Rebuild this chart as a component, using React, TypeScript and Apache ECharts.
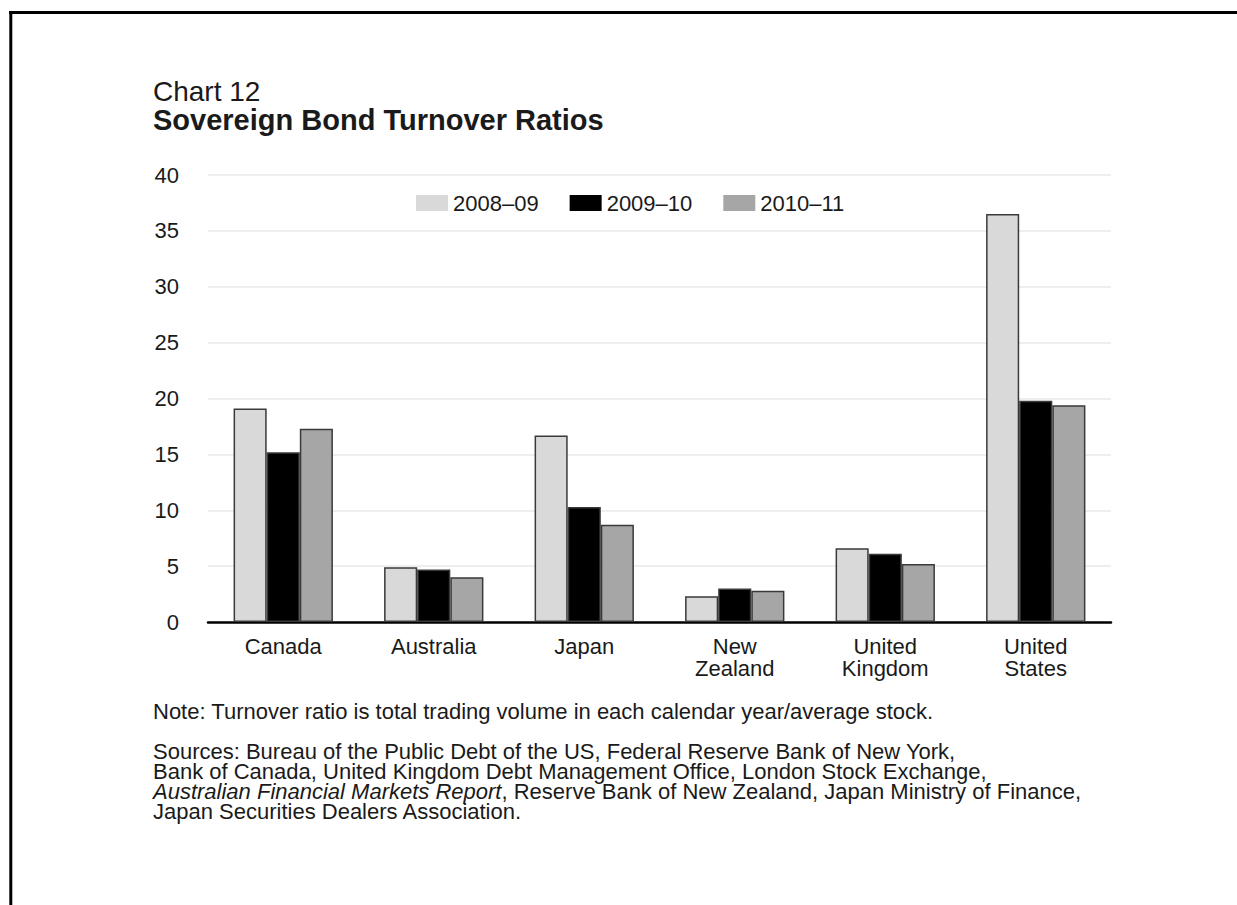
import React, { useEffect, useRef } from "react";
import * as echarts from "echarts";

const categories = ["Canada", "Australia", "Japan", "New\nZealand", "United\nKingdom", "United\nStates"];
const seriesNames = ["2008–09", "2009–10", "2010–11"];
const values0809 = [19.1, 4.9, 16.7, 2.3, 6.6, 36.5];
const values0910 = [15.2, 4.7, 10.3, 3.0, 6.1, 19.8];
const values1011 = [17.3, 4.0, 8.7, 2.8, 5.2, 19.4];
const yTicks = { min: 0, max: 40, interval: 5 };

const titleLine1 = "Chart 12";
const titleLine2 = "Sovereign Bond Turnover Ratios";
const noteLine = "Note: Turnover ratio is total trading volume in each calendar year/average stock.";
const sourceLines = [
  "Sources: Bureau of the Public Debt of the US, Federal Reserve Bank of New York,",
  "Bank of Canada, United Kingdom Debt Management Office, London Stock Exchange,",
  "{i|Australian Financial Markets Report}, Reserve Bank of New Zealand, Japan Ministry of Finance,",
  "Japan Securities Dealers Association.",
];

const FONT = "'Liberation Sans', Arial, Helvetica, sans-serif";
const TXT = "#1a1a1a";

export default function App() {
  const ref = useRef<HTMLDivElement>(null);
  useEffect(() => {
    if (!ref.current) return;
    const chart = echarts.init(ref.current, null, { renderer: "svg" });
    const colors = ["#d9d9d9", "#000000", "#a6a6a6"];
    const data = [values0809, values0910, values1011];
    const textEl = (t: string, x: number, y: number, size: number, weight = "normal", extra: any = {}) => ({
      type: "text",
      x,
      y,
      silent: true,
      style: {
        text: t,
        fontSize: size,
        fontWeight: weight,
        fontFamily: FONT,
        fill: TXT,
        verticalAlign: "middle",
        align: "left",
        ...extra,
      },
    });
    const graphics: any[] = [
      { type: "line", shape: { x1: 9, y1: 12.5, x2: 1237, y2: 12.5 }, style: { stroke: "#000", lineWidth: 3 } },
      { type: "line", shape: { x1: 10.8, y1: 11, x2: 10.8, y2: 905 }, style: { stroke: "#000", lineWidth: 3 } },
      textEl(titleLine1, 153, 91, 28),
      textEl(titleLine2, 153, 120, 29, "bold"),
      textEl(noteLine, 153, 711, 22),
      textEl(sourceLines.join("\n"), 153, 741, 22, "normal", {
        verticalAlign: "top",
        lineHeight: 20,
        rich: { i: { fontStyle: "italic", fontSize: 22, lineHeight: 20, fontFamily: FONT, fill: TXT } },
      }),
    ];
    chart.setOption({
      animation: false,
      backgroundColor: "#ffffff",
      legend: {
        data: seriesNames,
        left: 416,
        top: 192,
        padding: 0,
        itemGap: 31,
        itemWidth: 32,
        itemHeight: 16,
        icon: "rect",
        itemStyle: { borderWidth: 0 },
        textStyle: { fontSize: 22, color: TXT, fontFamily: FONT },
      },
      grid: { left: 208, right: 126, top: 175, bottom: 283 },
      xAxis: {
        type: "category",
        data: categories,
        axisLine: { lineStyle: { color: "#000", width: 2.5 } },
        axisTick: { show: false },
        axisLabel: { fontSize: 22, color: TXT, fontFamily: FONT, margin: 13, lineHeight: 22, interval: 0 },
      },
      yAxis: {
        type: "value",
        min: yTicks.min,
        max: yTicks.max,
        interval: yTicks.interval,
        axisLine: { show: false },
        axisTick: { show: false },
        splitLine: { lineStyle: { color: "#e8e8e8", width: 1.5 } },
        axisLabel: { fontSize: 22, color: TXT, fontFamily: FONT, margin: 29 },
      },
      series: seriesNames.map((n, i) => ({
        name: n,
        type: "bar",
        data: data[i],
        barGap: "0%",
        barCategoryGap: "34%",
        itemStyle: { color: colors[i], borderColor: "#3a3a3a", borderWidth: 1.5 },
      })),
      graphic: graphics,
    });
    return () => chart.dispose();
  }, []);
  return (
    <div
      ref={ref}
      style={{ position: "fixed", left: 0, top: 0, width: 1237, height: 905, background: "#fff" }}
    />
  );
}
